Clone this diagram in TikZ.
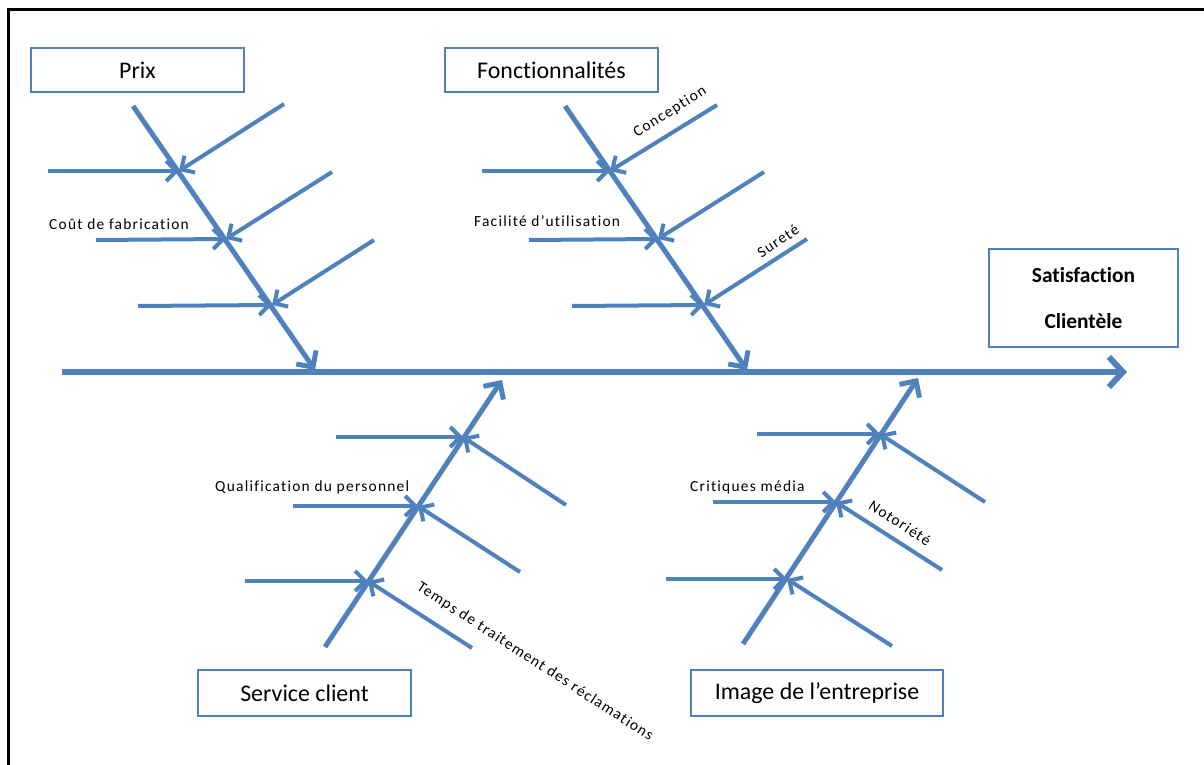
\documentclass[tikz,border=0pt]{standalone}
\usepackage{fontspec}
\setmainfont{Carlito}[Ligatures=NoCommon]
\newfontfamily\lblfont[LetterSpace=8,Ligatures=NoCommon]{Carlito}
\usetikzlibrary{arrows.meta}
\definecolor{fb}{RGB}{79,129,189}
\begin{document}
\begin{tikzpicture}[x=1bp,y=-1bp,
  box/.style={draw=fb, line width=1.5bp, fill=white, inner sep=0pt, font=\fontsize{24}{28}\selectfont},
  lbl/.style={inner sep=0pt, font=\lblfont\fontsize{15.5}{18}\selectfont},
  spine/.style={draw=fb, line width=6bp, -{Straight Barb[length=14bp,width=30bp]}},
  bone/.style={draw=fb, line width=5bp, -{Straight Barb[length=12bp,width=24bp]}},
  twig/.style={draw=fb, line width=4bp, -{Straight Barb[length=10bp,width=20bp]}}]
\useasboundingbox (0,0) rectangle (1204,765);
\draw[line width=3bp] (8,765) -- (8,10) -- (1204,10);

% boxes
\node[box, minimum width=213bp, minimum height=44bp] (prix) at (137.5,70) {Prix};
\node[box, minimum width=213bp, minimum height=44bp] (fonc) at (551.5,70) {Fonctionnalités};
\node[box, minimum width=189bp, minimum height=98bp, font=\fontsize{21.5}{46}\selectfont\bfseries, align=center] (sat) at (1083.5,298) {Satisfaction\\[0pt]Clientèle};
\node[box, minimum width=213bp, minimum height=46bp] (serv) at (304.5,693) {Service client};
\node[box, minimum width=252bp, minimum height=46bp] (img) at (817,693) {Image de l’entreprise};

% spine
\coordinate (s0) at (62,372);
\coordinate (s1) at (1127,372);
\draw[spine] (s0) -- (s1);

% Prix bone
\coordinate (p0) at (133,106); \coordinate (p1) at (315,370);
\coordinate (pa) at (179,171); \coordinate (pb) at (226,239); \coordinate (pc) at (272,305);
\draw[bone] (p0) -- (p1);
\coordinate (pah) at (48,171); \coordinate (pbh) at (96,240); \coordinate (pch) at (138,306);
\coordinate (pad) at (284,104); \coordinate (pbd) at (332,172); \coordinate (pcd) at (374,240);
\draw[twig] (pah) -- (pa); \draw[twig] (pbh) -- (pb); \draw[twig] (pch) -- (pc);
\draw[twig] (pad) -- (pa); \draw[twig] (pbd) -- (pb); \draw[twig] (pcd) -- (pc);
\node[lbl, anchor=base west] (cout) at (49,229) {Coût  de fabrication};

% Fonctionnalites bone
\coordinate (f0) at (565,106); \coordinate (f1) at (747,370);
\coordinate (fa) at (610,171); \coordinate (fb) at (658,239); \coordinate (fc) at (704,305);
\draw[bone] (f0) -- (f1);
\coordinate (fah) at (482,171); \coordinate (fbh) at (529,240); \coordinate (fch) at (572,306);
\coordinate (fad) at (717,105); \coordinate (fbd) at (764,172); \coordinate (fcd) at (807,239);
\draw[twig] (fah) -- (fa); \draw[twig] (fbh) -- (fb); \draw[twig] (fch) -- (fc);
\draw[twig] (fad) -- (fa); \draw[twig] (fbd) -- (fb); \draw[twig] (fcd) -- (fc);
\node[lbl, rotate=32] (conc) at (670,112) {Conception};
\node[lbl, anchor=base west] (facil) at (474,226) {Facilité d’utilisation};
\node[lbl, rotate=34] (sure) at (778,241) {Sureté};

% Service client bone
\coordinate (c0) at (325,647); \coordinate (c1) at (502,380);
\coordinate (ca) at (463,437); \coordinate (cb) at (418,506); \coordinate (cc) at (368,581);
\draw[bone] (c0) -- (c1);
\coordinate (cah) at (336,437); \coordinate (cbh) at (293,506); \coordinate (cch) at (245,581);
\coordinate (cad) at (566,505); \coordinate (cbd) at (520,572); \coordinate (ccd) at (472,648);
\draw[twig] (cah) -- (ca); \draw[twig] (cbh) -- (cb); \draw[twig] (cch) -- (cc);
\draw[twig] (cad) -- (ca); \draw[twig] (cbd) -- (cb); \draw[twig] (ccd) -- (cc);
\node[lbl, anchor=base west] (qual) at (215,491) {Qualification  du personnel};
\node[lbl, rotate=-33] (temps) at (535,662) {Temps de traitement des réclamations};

% Image bone
\coordinate (i0) at (743,644); \coordinate (i1) at (918,378);
\coordinate (ia) at (880,434); \coordinate (ib) at (836,502); \coordinate (ic) at (787,579);
\draw[bone] (i0) -- (i1);
\coordinate (iah) at (757,434); \coordinate (ibh) at (713,502); \coordinate (ich) at (666,579);
\coordinate (iad) at (985,502); \coordinate (ibd) at (942,570); \coordinate (icd) at (892,646);
\draw[twig] (iah) -- (ia); \draw[twig] (ibh) -- (ib); \draw[twig] (ich) -- (ic);
\draw[twig] (iad) -- (ia); \draw[twig] (ibd) -- (ib); \draw[twig] (icd) -- (ic);
\node[lbl, anchor=base west] (crit) at (690,491) {Critiques média};
\node[lbl, rotate=-33] (noto) at (900,523) {Notoriété};
\end{tikzpicture}
\end{document}
